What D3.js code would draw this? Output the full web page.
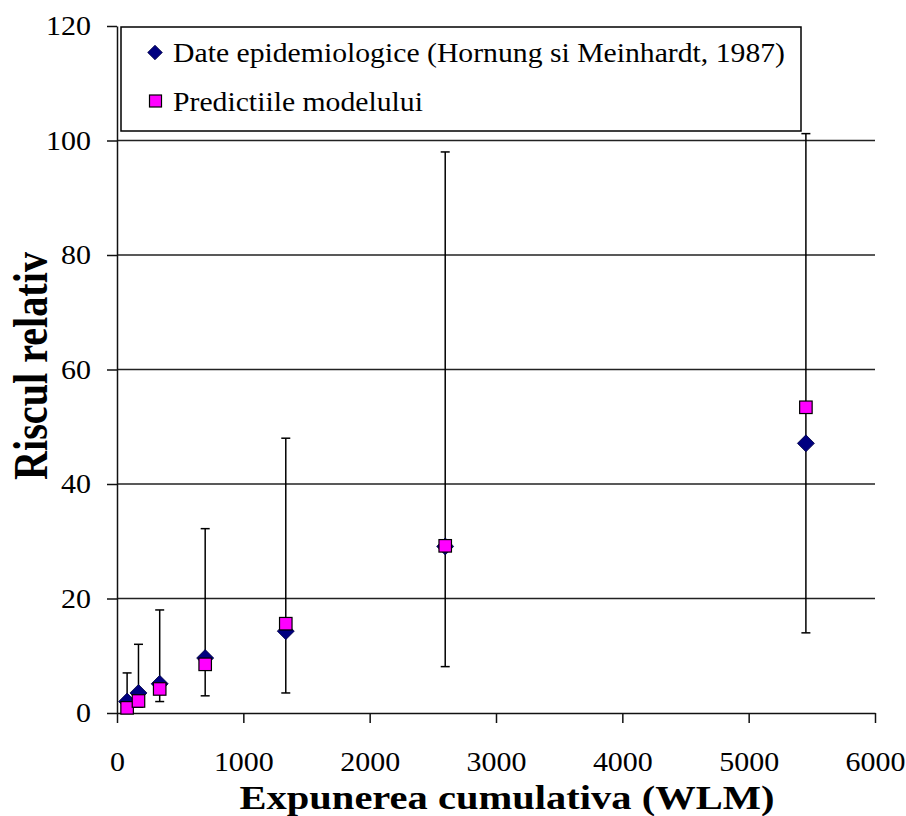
<!DOCTYPE html>
<html>
<head>
<meta charset="utf-8">
<script src="https://cdn.jsdelivr.net/npm/d3@7"></script>
<style>
  html, body { margin: 0; padding: 0; background: #fff; }
  svg { display: block; font-family: "Liberation Serif", "Times New Roman", serif; }
</style>
</head>
<body>
<svg id="chart" width="906" height="816"></svg>
<script>
// Cumulative exposure (WLM) for each cohort group
const exposure = [80, 170, 338, 698, 1336, 2598, 5453];
// Observed relative risk (Hornung & Meinhardt, 1987) with confidence limits
const observed = [2.0, 3.5, 5.1, 9.6, 14.3, 29.1, 47.1];
const observedLow = [0.5, 1.0, 2.0, 3.0, 3.5, 8.1, 14.0];
const observedHigh = [7.0, 12.0, 18.0, 32.2, 48.0, 98.0, 101.2];
// Model predictions
const predicted = [0.9, 2.1, 4.2, 8.5, 15.6, 29.2, 53.4];

const xTicks = [0, 1000, 2000, 3000, 4000, 5000, 6000];
const yTicks = [0, 20, 40, 60, 80, 100, 120];
const legendLabels = ["Date epidemiologice (Hornung si Meinhardt, 1987)", "Predictiile modelului"];
const xTitle = "Expunerea cumulativa (WLM)";
const yTitle = "Riscul relativ";

const svg = d3.select("#chart");
const plotL = 117, plotR = 875, plotT = 26, plotB = 713;

const x = d3.scaleLinear().domain([0, 6000]).range([plotL, plotR]);
const y = d3.scaleLinear().domain([0, 120]).range([plotB, plotT]);

// widen serif text slightly (wide glyph set)
function widen(sel, k) {
  sel.each(function () {
    const w = this.getComputedTextLength();
    d3.select(this).attr("textLength", w * k).attr("lengthAdjust", "spacingAndGlyphs");
  });
}

// horizontal gridlines
svg.append("g")
  .selectAll("line")
  .data(yTicks.filter(d => d > 0 && d < 120))
  .join("line")
  .attr("x1", plotL).attr("x2", plotR)
  .attr("y1", d => y(d)).attr("y2", d => y(d))
  .attr("stroke", "#222").attr("stroke-width", 1.5);

// y axis
const yAxis = svg.append("g")
  .attr("transform", `translate(${plotL},0)`)
  .call(d3.axisLeft(y).tickValues(yTicks).tickFormat(d3.format("d"))
    .tickSize(10).tickPadding(16).tickSizeOuter(0));
yAxis.attr("font-family", null);
yAxis.select(".domain").attr("stroke", "#111").attr("stroke-width", 1.5);
yAxis.selectAll(".tick line").attr("stroke", "#111").attr("stroke-width", 1.5);
yAxis.selectAll(".tick text")
  .attr("font-family", "Liberation Serif").attr("font-size", 28).attr("fill", "#000")
  .call(widen, 1.07);

// x axis
const xAxis = svg.append("g")
  .attr("transform", `translate(0,${plotB})`)
  .call(d3.axisBottom(x).tickValues(xTicks).tickFormat(d3.format("d"))
    .tickSize(10).tickPadding(28).tickSizeOuter(0));
xAxis.attr("font-family", null);
xAxis.select(".domain").attr("stroke", "#111").attr("stroke-width", 1.5);
xAxis.selectAll(".tick line").attr("stroke", "#111").attr("stroke-width", 1.5);
xAxis.selectAll(".tick text")
  .attr("font-family", "Liberation Serif").attr("font-size", 28).attr("fill", "#000")
  .call(widen, 1.07);

// axis titles
svg.append("text")
  .attr("x", 507).attr("y", 809)
  .attr("text-anchor", "middle")
  .attr("font-family", "Liberation Serif")
  .attr("font-weight", "bold").attr("font-size", 34)
  .attr("textLength", 535).attr("lengthAdjust", "spacingAndGlyphs")
  .text(xTitle);

svg.append("text")
  .attr("transform", "translate(47,366) rotate(-90)")
  .attr("text-anchor", "middle")
  .attr("font-family", "Liberation Serif")
  .attr("font-weight", "bold").attr("font-size", 48)
  .attr("textLength", 228).attr("lengthAdjust", "spacingAndGlyphs")
  .text(yTitle);

// error bars on observed values
const capW = 4.5;
const eb = svg.append("g").attr("stroke", "#000").attr("stroke-width", 1.5);
exposure.forEach((e, i) => {
  const cx = x(e);
  eb.append("line").attr("x1", cx).attr("x2", cx)
    .attr("y1", y(observedLow[i])).attr("y2", y(observedHigh[i]));
  eb.append("line").attr("x1", cx - capW).attr("x2", cx + capW)
    .attr("y1", y(observedLow[i])).attr("y2", y(observedLow[i]));
  eb.append("line").attr("x1", cx - capW).attr("x2", cx + capW)
    .attr("y1", y(observedHigh[i])).attr("y2", y(observedHigh[i]));
});

// observed points: navy diamonds
const diamond = d3.symbol().type(d3.symbolDiamond2).size(184);
svg.append("g").selectAll("path")
  .data(exposure.map((e, i) => [e, observed[i]]))
  .join("path")
  .attr("d", diamond)
  .attr("transform", d => `translate(${x(d[0])},${y(d[1])})`)
  .attr("fill", "#000080").attr("stroke", "#000040").attr("stroke-width", 0.8);

// predicted points: magenta squares
const sq = 12.5;
svg.append("g").selectAll("rect")
  .data(exposure.map((e, i) => [e, predicted[i]]))
  .join("rect")
  .attr("x", d => x(d[0]) - sq / 2).attr("y", d => y(d[1]) - sq / 2)
  .attr("width", sq).attr("height", sq)
  .attr("fill", "#ff00ff").attr("stroke", "#000").attr("stroke-width", 1.2);

// legend
const lg = svg.append("g");
lg.append("rect")
  .attr("x", 121).attr("y", 27).attr("width", 680).attr("height", 104)
  .attr("fill", "#fff").attr("stroke", "#000").attr("stroke-width", 1.5);
lg.append("path")
  .attr("d", d3.symbol().type(d3.symbolDiamond2).size(136))
  .attr("transform", "translate(155,52.5)")
  .attr("fill", "#000080").attr("stroke", "#000040").attr("stroke-width", 0.8);
lg.append("rect")
  .attr("x", 149.5).attr("y", 95).attr("width", 12).attr("height", 12)
  .attr("fill", "#ff00ff").attr("stroke", "#000").attr("stroke-width", 1.2);
lg.selectAll("text.lbl")
  .data(legendLabels)
  .join("text")
  .attr("class", "lbl")
  .attr("x", 173).attr("y", (d, i) => 62 + i * 49)
  .attr("font-family", "Liberation Serif")
  .attr("font-size", 27).attr("fill", "#000")
  .text(d => d)
  .call(widen, 1.1);
</script>
</body>
</html>
